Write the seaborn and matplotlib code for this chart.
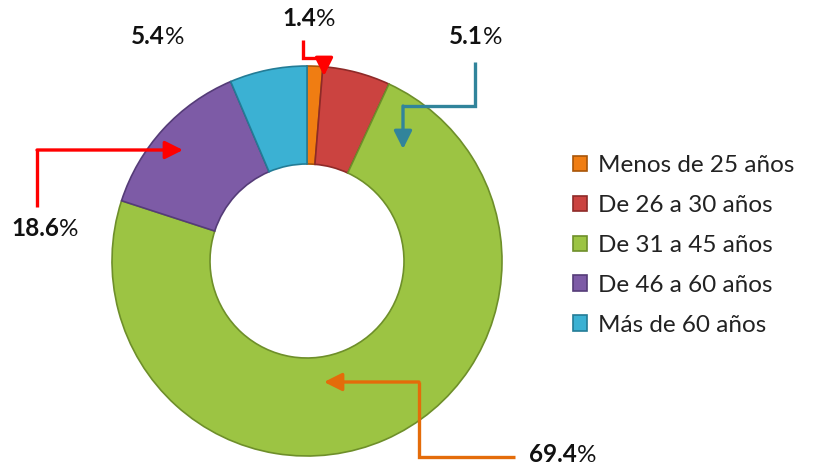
import matplotlib.pyplot as plt
import seaborn as sns

# age groups; the printed labels and the wedge sizes as drawn in the picture
# (the drawn ring does not follow the printed figures exactly)
categories = ["Menos de 25 años", "De 26 a 30 años", "De 31 a 45 años",
              "De 46 a 60 años", "Más de 60 años"]
labels = ["1.4", "5.1", "69.4", "18.6", "5.4"]
wedge_shares = [1.3, 5.6, 73.1, 13.6, 6.4]
colors = ["#F07D12", "#CB4340", "#9CC443", "#7D5BA6", "#3BB1D3"]
edges = ["#A85508", "#8E2A28", "#6E8F2A", "#553C78", "#237C96"]

W, H = 821, 466

sns.set_theme(style="white")
plt.rcParams["font.family"] = ["Lato", "DejaVu Sans"]


def px(x, y):
    # pixel position (from top left) -> data coords
    return (x, H - y)


fig = plt.figure(figsize=(W / 100, H / 100), dpi=100)
ax = fig.add_axes([0, 0, 1, 1])

wedges, _ = ax.pie(wedge_shares, colors=colors, startangle=90, counterclock=False,
                   center=px(307, 261), radius=195,
                   wedgeprops=dict(width=98, linewidth=1.2))
for w, ec in zip(wedges, edges):
    w.set_edgecolor(ec)

ax.set_xlim(0, W)
ax.set_ylim(0, H)
ax.axis("off")

# elbow arrows: (points, colour) - last segment gets the head
arrows = [
    ([(303, 40), (303, 58), (324, 58), (324, 76)], "#FF0000"),
    ([(475, 62), (475, 106), (403, 106), (403, 149)], "#31849B"),
    ([(37, 207), (37, 150), (183, 150)], "#FF0000"),
    ([(515, 457), (419, 457), (419, 382), (324, 382)], "#E46C0A"),
]
for pts, c in arrows:
    xy = [px(*p) for p in pts]
    ax.plot([p[0] for p in xy[:-1]], [p[1] for p in xy[:-1]], color=c,
            lw=2.4, solid_capstyle="butt", solid_joinstyle="miter")
    ax.annotate("", xy=xy[-1], xytext=xy[-2],
                arrowprops=dict(arrowstyle="-|>,head_length=0.9,head_width=0.45",
                                color=c, lw=2.4, shrinkA=0, shrinkB=0))

# percentage labels (number bold, % normal)
label_pos = {"1.4": (282, 18), "5.1": (449, 37), "69.4": (529, 455),
             "18.6": (11, 228), "5.4": (131, 36)}
for lab in labels:
    t = ax.text(*px(*label_pos[lab]), lab, fontsize=17.5, fontweight="bold",
                ha="left", va="center", color="#111111")
    ax.annotate("%", xy=(1, 0), xycoords=t, va="bottom", ha="left",
                fontsize=17.5, color="#111111")

ax.legend(wedges, categories, loc="upper left",
          bbox_to_anchor=(551 / W, 1 - 133 / H),
          frameon=False, fontsize=17.5, handlelength=0.6, handleheight=0.6,
          handletextpad=0.45, labelspacing=0.78, labelcolor="#222222")

fig.savefig("out.png", dpi=100)
